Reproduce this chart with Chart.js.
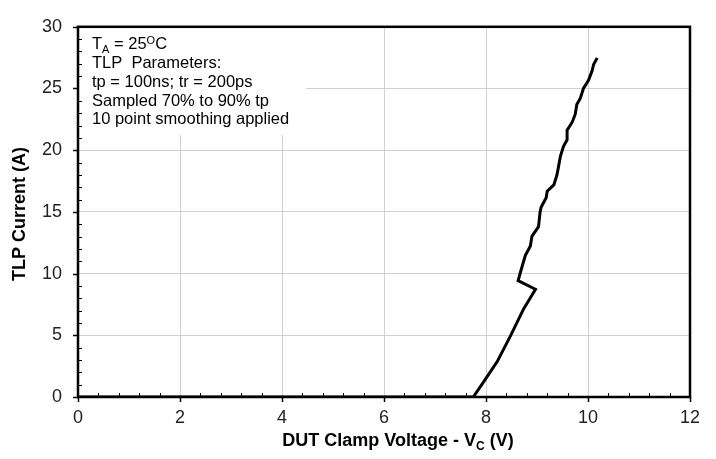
<!DOCTYPE html>
<html><head><meta charset="utf-8">
<script src="https://cdn.jsdelivr.net/npm/chart.js@4"></script>
<style>html,body{margin:0;padding:0;background:#fff}</style>
</head><body>
<canvas id="c" width="716" height="459"></canvas>
<script>
const voltage = [0, 7.75, 7.95, 8.22, 8.48, 8.74, 8.85, 8.97, 8.63, 8.67, 8.77, 8.87, 8.90, 9.03, 9.06, 9.08, 9.18, 9.20, 9.33, 9.39, 9.42, 9.46, 9.52, 9.59, 9.59, 9.69, 9.75, 9.78, 9.85, 9.91, 10.01, 10.08, 10.11, 10.18];
const current = [0, 0.0, 1.2, 2.87, 4.95, 7.16, 7.9, 8.73, 9.43, 10.03, 11.46, 12.24, 13.02, 13.80, 14.98, 15.37, 16.15, 16.67, 17.19, 17.97, 18.63, 19.53, 20.31, 20.84, 21.62, 22.27, 22.92, 23.70, 24.22, 25.0, 25.66, 26.44, 26.95, 27.48];
const xTickValues = [0, 2, 4, 6, 8, 10, 12];
const yTickValues = [0, 5, 10, 15, 20, 25, 30];
const xTitleMain = 'DUT Clamp Voltage - V';
const xTitleSub = 'C';
const xTitleEnd = ' (V)';
const yTitle = 'TLP Current (A)';
const noteLines = ['TLP  Parameters:', 'tp = 100ns; tr = 200ps', 'Sampled 70% to 90% tp', '10 point smoothing applied'];

const FONT = '"Liberation Sans", Arial, sans-serif';

function drawRuns(ctx, x, y, runs) {
  let cx = x;
  for (const r of runs) {
    ctx.font = (r.bold ? 'bold ' : '') + r.size + 'px ' + FONT;
    ctx.fillText(r.t, cx, y + (r.dy || 0));
    cx += ctx.measureText(r.t).width;
  }
  return cx - x;
}
function measureRuns(ctx, runs) {
  let w = 0;
  for (const r of runs) {
    ctx.font = (r.bold ? 'bold ' : '') + r.size + 'px ' + FONT;
    w += ctx.measureText(r.t).width;
  }
  return w;
}

const deco = {
  id: 'deco',
  beforeDatasetsDraw(chart) {
    const { ctx, chartArea: a } = chart;
    ctx.save();
    ctx.fillStyle = '#fff';
    ctx.fillRect(a.left + 1, a.top + 1, 305 - a.left, 134 - a.top);
    ctx.fillStyle = '#000';
    ctx.textBaseline = 'alphabetic';
    ctx.textAlign = 'left';
    const x0 = 92;
    drawRuns(ctx, x0, 49, [
      { t: 'T', size: 16.5 }, { t: 'A', size: 11, dy: 4 }, { t: ' = 25', size: 16.5 },
      { t: 'O', size: 11, dy: -5 }, { t: 'C', size: 16.5 }
    ]);
    noteLines.forEach((s, i) => {
      drawRuns(ctx, x0, 68 + i * 18.8, [{ t: s, size: 16.5 }]);
    });
    ctx.restore();
  },
  afterDraw(chart) {
    const { ctx, chartArea: a, scales } = chart;
    const xs = scales.x, ys = scales.y;
    ctx.save();
    ctx.strokeStyle = '#000';
    ctx.lineWidth = 1.5;
    ctx.beginPath();
    for (const v of xTickValues) {
      const p = Math.round(xs.getPixelForValue(v)) + 0.5;
      ctx.moveTo(p, a.bottom); ctx.lineTo(p, a.bottom + 5);
    }
    for (const v of yTickValues) {
      const p = Math.round(ys.getPixelForValue(v)) + 0.5;
      ctx.moveTo(a.left - 5, p); ctx.lineTo(a.left, p);
    }
    ctx.stroke();
    ctx.lineWidth = 1;
    ctx.beginPath();
    for (let i = 1; i < 30; i++) {
      const v = xs.min + i * 0.4;
      if (i % 5 === 0) continue;
      const p = Math.round(xs.getPixelForValue(v)) + 0.5;
      ctx.moveTo(p, a.bottom); ctx.lineTo(p, a.bottom - 4);
    }
    for (let i = 1; i < 30; i++) {
      if (i % 5 === 0) continue;
      const p = Math.round(ys.getPixelForValue(i)) + 0.5;
      ctx.moveTo(a.left, p); ctx.lineTo(a.left + 4, p);
    }
    ctx.stroke();
    ctx.lineWidth = 2.5;
    ctx.strokeRect(a.left, a.top, a.right - a.left, a.bottom - a.top);
    ctx.fillStyle = '#000';
    ctx.textBaseline = 'alphabetic';
    ctx.textAlign = 'left';
    const runs = [
      { t: xTitleMain, size: 18, bold: true },
      { t: xTitleSub, size: 12, bold: true, dy: 4 },
      { t: xTitleEnd, size: 18, bold: true }
    ];
    const w = measureRuns(ctx, runs);
    drawRuns(ctx, 398 - w / 2, 446, runs);
    ctx.translate(20, 214);
    ctx.rotate(-Math.PI / 2);
    ctx.textAlign = 'center';
    ctx.textBaseline = 'middle';
    ctx.font = 'bold 18px ' + FONT;
    ctx.fillText(yTitle, 0, 0);
    ctx.restore();
  }
};

new Chart(document.getElementById('c'), {
  type: 'scatter',
  data: {
    datasets: [{
      data: voltage.map((v, i) => ({ x: v, y: current[i] })),
      showLine: true,
      borderColor: '#000',
      borderWidth: 3,
      pointRadius: 0,
      tension: 0,
      fill: false
    }]
  },
  options: {
    responsive: false,
    animation: false,
    devicePixelRatio: 1,
    layout: { padding: { left: 0, top: 13, right: 26, bottom: 0 } },
    plugins: { legend: { display: false }, tooltip: { enabled: false } },
    scales: {
      x: {
        type: 'linear', min: 0, max: 12,
        afterFit: s => { s.height = 62; },
        afterBuildTicks: s => { s.ticks = xTickValues.map(v => ({ value: v })); },
        grid: { color: '#d0d0d0', lineWidth: 1, drawTicks: false },
        border: { display: false },
        ticks: { padding: 10, color: '#222', font: { family: FONT, size: 18 }, maxRotation: 0 }
      },
      y: {
        type: 'linear', min: 0, max: 30,
        afterFit: s => { s.width = 78; },
        afterBuildTicks: s => { s.ticks = yTickValues.map(v => ({ value: v })); },
        grid: { color: '#d0d0d0', lineWidth: 1, drawTicks: false },
        border: { display: false },
        ticks: { padding: 16, color: '#222', font: { family: FONT, size: 18 } }
      }
    }
  },
  plugins: [deco]
});
</script>
</body></html>
